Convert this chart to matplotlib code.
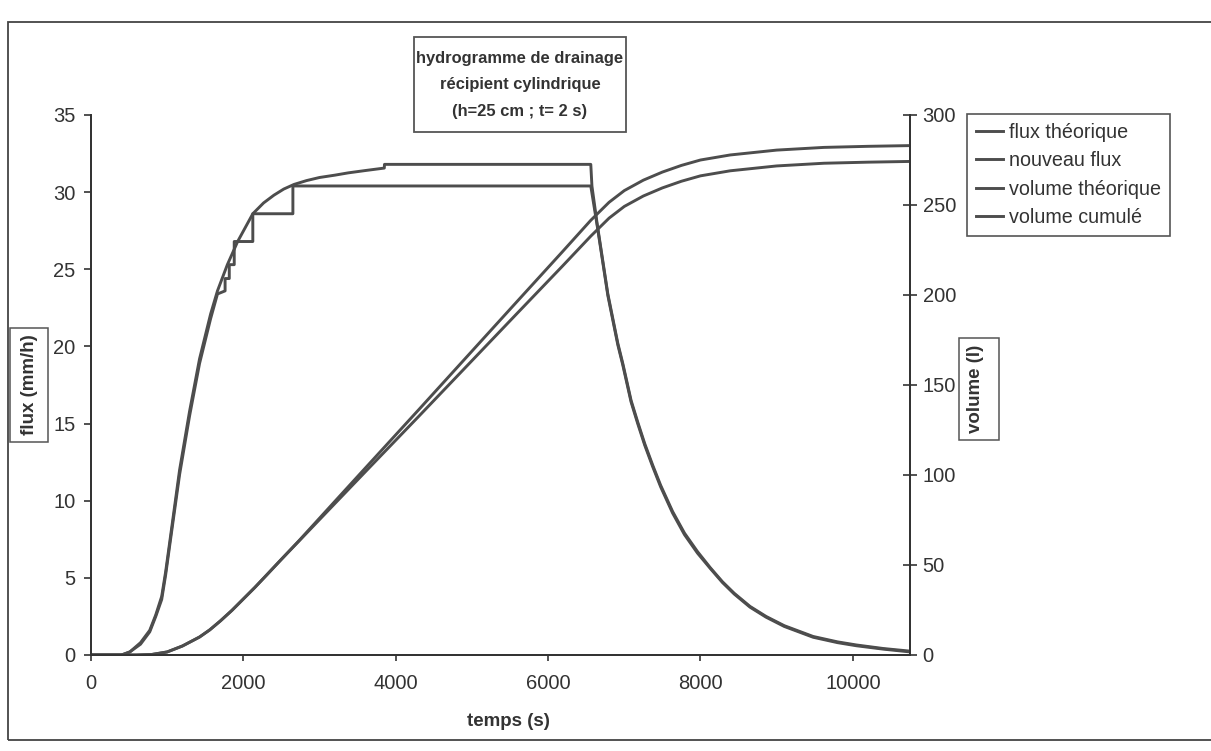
import numpy as np
import matplotlib
matplotlib.use("Agg")
import matplotlib.pyplot as plt
from matplotlib.patches import Rectangle

plt.rcParams['font.family'] = ['Liberation Sans', 'DejaVu Sans']

# flux theorique (mm/h) vs temps (s)
t_th = [0, 400, 510, 650, 771, 850, 928, 980, 1033, 1163, 1294, 1425, 1570, 1660, 1790,
        1925, 2124, 2265, 2400, 2530, 2665, 2830, 3000, 3200, 3377, 3600, 3850, 3852,
        6560, 6575, 6645, 6784, 6915, 6980, 7089, 7176, 7268, 7373, 7477, 7634, 7790,
        7961, 8130, 8288, 8443, 8650, 8861, 9100, 9479, 9800, 10046, 10400, 10750]
q_th = [0, 0, 0.2, 0.8, 1.6, 2.6, 3.8, 5.4, 7.3, 12.0, 15.8, 19.2, 22.1, 23.6, 25.3,
        26.8, 28.6, 29.3, 29.8, 30.2, 30.5, 30.75, 30.95, 31.1, 31.25, 31.4, 31.56, 31.8,
        31.8, 30.4, 27.9, 23.4, 20.2, 18.9, 16.5, 15.1, 13.7, 12.3, 11.0, 9.3, 7.9,
        6.7, 5.65, 4.75, 4.0, 3.15, 2.5, 1.9, 1.2, 0.85, 0.65, 0.42, 0.25]

# nouveau flux (paliers)
t_nf = [0, 400, 510, 650, 771, 850, 928, 980, 1033, 1163, 1294, 1425, 1570, 1660, 1760,
        1760, 1815, 1815, 1880, 1880, 2124, 2124, 2650, 2650, 6560, 6645, 6784, 6915,
        6980, 7089, 7176, 7268, 7373, 7477, 7634, 7790, 7961, 8130, 8288, 8443, 8650,
        8861, 9100, 9479, 9800, 10046, 10400, 10750]
q_nf = [0, 0, 0.2, 0.7, 1.5, 2.5, 3.6, 5.2, 7.1, 11.7, 15.5, 18.9, 21.8, 23.4, 23.6,
        24.4, 24.4, 25.3, 25.3, 26.8, 26.8, 28.6, 28.6, 30.4, 30.4, 27.8, 23.3, 20.1,
        18.8, 16.4, 15.0, 13.6, 12.2, 10.9, 9.2, 7.8, 6.6, 5.6, 4.7, 3.95, 3.1,
        2.45, 1.85, 1.15, 0.8, 0.6, 0.38, 0.2]

# volumes (l)
t_vol = [0, 600, 800, 1000, 1200, 1425, 1560, 1700, 1850, 1987, 2150, 2300, 2500, 2732,
         3200, 3608, 4300, 5000, 5582, 6187, 6560, 6800, 7000, 7250, 7500, 7750, 8000,
         8390, 9000, 9620, 10200, 10750]
v_th = [0, 0, 0.3, 1.7, 5, 10, 14, 19, 24.8, 30.6, 37.5, 44.2, 53.2, 63.6,
        85.3, 104.2, 136.2, 168.8, 195.9, 224, 241.5, 251.5, 258, 263.8, 268.3, 272, 275,
        277.8, 280.5, 282, 282.6, 283]
v_cu = [0, 0, 0.3, 1.7, 5, 10, 14, 19, 24.8, 30.6, 37.5, 44.2, 53.2, 63.4,
        84.1, 102.1, 132.5, 163.5, 189.3, 216, 232.7, 242.7, 249.2, 255, 259.5, 263.2, 266.2,
        269, 271.7, 273.2, 273.8, 274.2]

W, H = 1211, 751
col = '#4d4d4d'
txt = '#333333'

fig = plt.figure(figsize=(W / 100, H / 100), dpi=100)
ax = fig.add_axes([91 / W, 1 - 655 / H, (910 - 91) / W, (655 - 115) / H])
ax2 = ax.twinx()

l1, = ax.plot(t_th, q_th, color=col, lw=2.1)
l2, = ax.plot(t_nf, q_nf, color=col, lw=2.1)
l3, = ax2.plot(t_vol, v_th, color=col, lw=2.1)
l4, = ax2.plot(t_vol, v_cu, color=col, lw=2.1)

ax.set_xlim(0, 10750)
ax.set_ylim(0, 35)
ax2.set_ylim(0, 300)
ax.set_xticks(np.arange(0, 10001, 2000))
ax.set_yticks(np.arange(0, 36, 5))
ax2.set_yticks(np.arange(0, 301, 50))

for a in (ax, ax2):
    a.spines['top'].set_visible(False)
    for s in a.spines.values():
        s.set_color('#333333')
        s.set_linewidth(1.3)
ax.tick_params(axis='y', direction='out', length=5, width=1.2, pad=6,
               labelsize=14.5, colors=txt)
ax.tick_params(axis='x', direction='out', length=4, width=1.2, pad=10,
               labelsize=14.5, colors=txt)
ax2.tick_params(axis='y', direction='inout', length=10, width=1.2, pad=4,
                labelsize=14.5, colors=txt)

fig.text(508 / W, 1 - 722 / H, 'temps (s)', ha='center', va='center',
         fontsize=13.5, fontweight='bold', color=txt)


def boxed(x0, y0, x1, y1, lw=1.1):
    # rectangle in pixel coords of the figure (y from top)
    fig.add_artist(Rectangle((x0 / W, 1 - y1 / H), (x1 - x0) / W, (y1 - y0) / H,
                             transform=fig.transFigure, fc='white', ec='#555555',
                             lw=lw, zorder=4))


boxed(10, 328, 48, 442)
fig.text(29 / W, 1 - 385 / H, 'flux (mm/h)', rotation=90, ha='center', va='center',
         fontsize=13.5, fontweight='bold', color=txt, zorder=5)
boxed(959, 338, 999, 440)
fig.text(976 / W, 1 - 389 / H, 'volume (l)', rotation=90, ha='center', va='center',
         fontsize=13.5, fontweight='bold', color=txt, zorder=5)

boxed(414, 37, 626, 132, lw=1.3)
fig.text(520 / W, 1 - 85 / H, 'hydrogramme de drainage\nrécipient cylindrique\n(h=25 cm ; t= 2 s)',
         ha='center', va='center', fontsize=11.9, fontweight='bold', color=txt,
         linespacing=1.95, zorder=5)

leg = fig.legend([l1, l2, l3, l4],
                 ['flux théorique', 'nouveau flux', 'volume théorique', 'volume cumulé'],
                 loc='upper left', bbox_to_anchor=(967 / W, 1 - 114 / H),
                 fontsize=14.2, frameon=True, fancybox=False, framealpha=1,
                 edgecolor='#555555', handlelength=1.4, handletextpad=0.3,
                 labelspacing=0.48, borderpad=0.45, borderaxespad=0)
leg.get_frame().set_linewidth(1.2)
for t in leg.get_texts():
    t.set_color(txt)

fig.add_artist(Rectangle((8 / W, 1 - 740 / H), (1215 - 8) / W, (740 - 22) / H,
                         transform=fig.transFigure, fill=False, ec='#444444', lw=1.3))

fig.savefig('out.png', dpi=100)
